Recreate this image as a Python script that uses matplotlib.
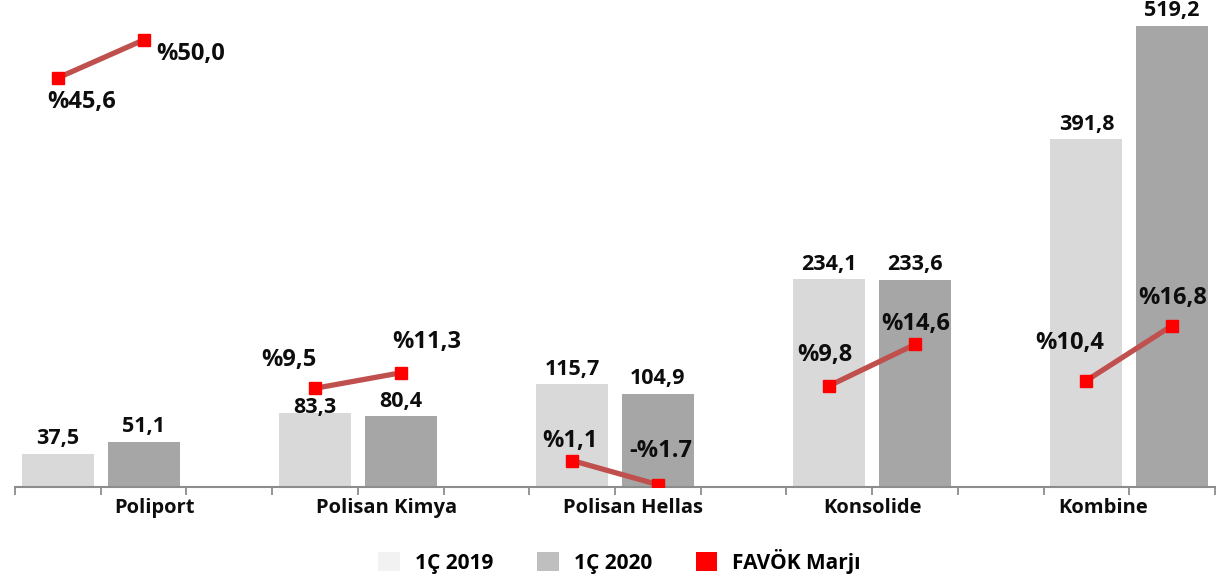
import matplotlib
matplotlib.use("Agg")
from matplotlib import pyplot as plt
from matplotlib.patches import Patch
from matplotlib.transforms import blended_transform_factory

plt.rcParams['font.family'] = ['Open Sans', 'DejaVu Sans']
plt.rcParams['font.weight'] = 'bold'

## data
companies = ["Poliport", "Polisan Kimya", "Polisan Hellas", "Konsolide", "Kombine"]
sales_2019 = [37.5, 83.3, 115.7, 234.1, 391.8]
sales_2020 = [51.1, 80.4, 104.9, 233.6, 519.2]
margin_2019 = [45.6, 9.5, 1.1, 9.8, 10.4]
margin_2020 = [50.0, 11.3, -1.7, 14.6, 16.8]
margin_lbl_2019 = ["%45,6", "%9,5", "%1,1", "%9,8", "%10,4"]
margin_lbl_2020 = ["%50,0", "%11,3", "-%1.7", "%14,6", "%16,8"]
series_names = ["1Ç 2019", "1Ç 2020", "FAVÖK Marjı"]

off_2019 = [(24, -24), (-26, 28), (-2, 20), (-4, 31), (-17, 38)]
off_2020 = [(47, -14), (26, 31), (3, 34), (1, 20), (1, 28)]
bar_off_2019 = [15, 6, 15, 15, 15]
bar_off_2020 = [15, 14, 15, 15, 15]
name_shift = [1.13 - 0.5, 3.84 - 3.5, 6.71 - 6.5, 0.0, 12.2 - 12.5]

c_light = "#d9d9d9"
c_dark = "#a6a6a6"
c_line = "#c0504d"
c_mark = "#ff0000"
c_text = "#0d0d0d"

fig = plt.figure(figsize=(12.24, 5.81), dpi=100)
ax = fig.add_axes([15 / 1224, 94 / 581, 1200 / 1224, 487 / 581])
ax2 = ax.twinx()

x1 = [3 * i for i in range(len(companies))]
x2 = [3 * i + 1 for i in range(len(companies))]

ax.bar(x1, sales_2019, width=0.84, color=c_light, zorder=2)
ax.bar(x2, sales_2020, width=0.84, color=c_dark, zorder=2)
for xs, vals, offs in ((x1, sales_2019, bar_off_2019), (x2, sales_2020, bar_off_2020)):
    for x, v, o in zip(xs, vals, offs):
        ax.annotate(f"{v:.1f}".replace(".", ","), (x, v), xytext=(0, o),
                    textcoords="offset pixels", ha="center", va="center",
                    fontsize=15.5, fontweight="bold", color=c_text)

ax.set_xlim(-0.5, 13.5)
ax.set_ylim(0, 487 / 0.888)
ax2.set_ylim(-17 / 8.6, (487 - 17) / 8.6)

for i in range(len(companies)):
    ax2.plot([x1[i], x2[i]], [margin_2019[i], margin_2020[i]], color=c_line,
             lw=3.8, solid_capstyle="butt", zorder=3)
    ax2.plot([x1[i], x2[i]], [margin_2019[i], margin_2020[i]], ls="none",
             marker="s", ms=8, color=c_mark, zorder=4)
    ax2.annotate(margin_lbl_2019[i], (x1[i], margin_2019[i]),
                 xytext=off_2019[i], textcoords="offset pixels",
                 ha="center", va="center", fontsize=17, fontweight="bold",
                 color=c_text)
    ax2.annotate(margin_lbl_2020[i], (x2[i], margin_2020[i]),
                 xytext=off_2020[i], textcoords="offset pixels",
                 ha="center", va="center", fontsize=17, fontweight="bold",
                 color=c_text)

## axes styling
for a in (ax, ax2):
    for s in ("top", "right", "left"):
        a.spines[s].set_visible(False)
    a.set_yticks([])
ax2.spines["bottom"].set_visible(False)
ax.spines["bottom"].set_color("#8c8c8c")
ax.spines["bottom"].set_linewidth(1.5)
ax.set_xticks([i - 0.5 for i in range(15)])
ax.set_xticklabels([])
ax.tick_params(axis="x", length=6, width=1.3, color="#8c8c8c", direction="out")

trans = blended_transform_factory(ax.transData, ax.transAxes)
for i, name in enumerate(companies):
    ax.text(3 * i + 0.5 + name_shift[i], -21 / 487, name, transform=trans,
            ha="center", va="center", fontsize=14.5, fontweight="bold",
            color=c_text)

handles = [Patch(facecolor="#f2f2f2", edgecolor="none"),
           Patch(facecolor="#bfbfbf", edgecolor="none"),
           Patch(facecolor=c_mark, edgecolor="none")]
fig.legend(handles, series_names, loc="lower center", bbox_to_anchor=(0.506, -0.02),
           ncol=3, frameon=False, handlelength=1.05, handleheight=1.0,
           columnspacing=2.1, handletextpad=0.72,
           prop={"weight": "bold", "size": 15})

fig.savefig("out.png", dpi=100)
